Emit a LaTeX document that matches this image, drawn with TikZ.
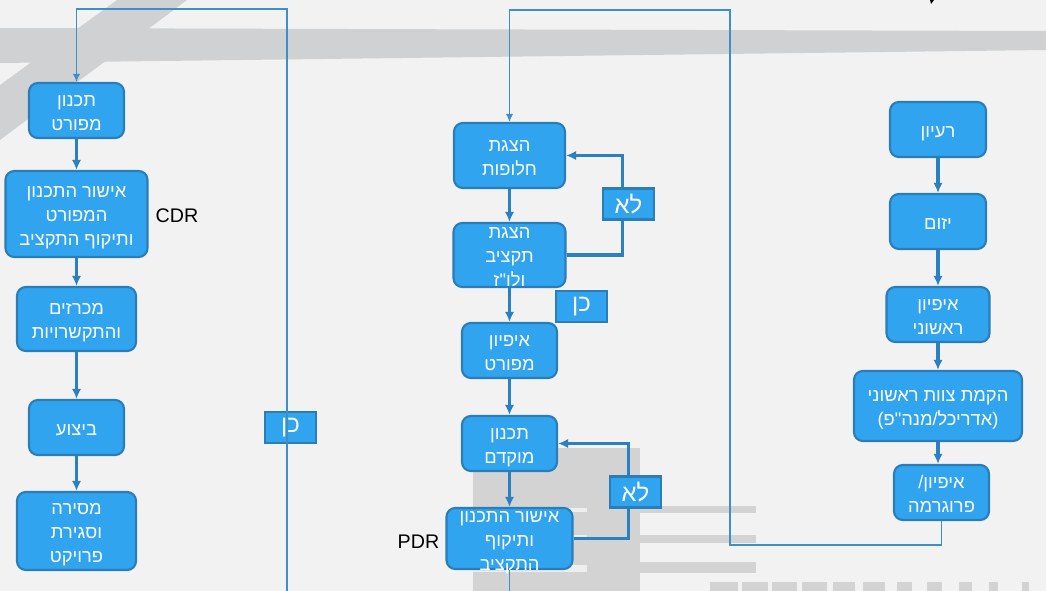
\documentclass[tikz,border=0pt]{standalone}
\usepackage{fontspec}
\setmainfont{Liberation Sans}
\newfontfamily\hebfont[Script=Hebrew]{Liberation Sans}
\TeXXeTstate=1
\usetikzlibrary{arrows.meta}
\definecolor{bgcolor}{HTML}{F2F2F2}
\definecolor{bandcolor}{HTML}{D0D1D3}
\definecolor{blockcolor}{HTML}{D4D3D4}
\definecolor{lightbar}{HTML}{EEEEEE}
\definecolor{boxfill}{HTML}{30A4EE}
\definecolor{boxline}{HTML}{2A7DB7}
\definecolor{arrowcolor}{HTML}{2A80C0}
\definecolor{thincolor}{HTML}{3D8FCC}
% hebrew lines, kept out of the box height
\newcommand{\heb}[1]{\smash{\raisebox{-0.4em}{\begin{tabular}{@{}c@{}}#1\end{tabular}}}}

\begin{document}
\begin{tikzpicture}[x=0.025cm,y=-0.025cm,
  stage/.style={draw=boxline,line width=1.5pt,fill=boxfill,rounded corners=0.22cm,text=white,inner sep=0pt,font=\hebfont\fontsize{13}{17}\selectfont},
  boxsize/.style 2 args={minimum width=#1*0.025cm,minimum height=#2*0.025cm},
  answer/.style={draw=boxline,line width=1.8pt,fill=boxfill,text=white,inner sep=0pt,minimum width=1.275cm,minimum height=0.775cm,font=\hebfont\fontsize{17}{20}\selectfont},
  flow/.style={arrowcolor,line width=2.2pt,-{Latex[length=0.25cm,width=0.23cm]}},
  thinline/.style={thincolor,line width=0.8pt},
  thinflow/.style={thinline,-{Latex[length=0.2cm,width=0.18cm]}},
  review/.style={font=\fontsize{14}{17}\selectfont}]
\useasboundingbox (0,0) rectangle (1046,591);
%% background
\fill[bgcolor] (0,0) rectangle (1046,591);
\fill[bandcolor] (117,0) -- (187,0) -- (0,140) -- (0,85) -- cycle;
\fill[bandcolor] (0,28) -- (1046,31) -- (1046,50) -- (0,63) -- cycle;
\fill[blockcolor] (473,448) rectangle (640,591);
\foreach \ya/\yb in {508/512, 535/538, 565/572}
    \fill[lightbar] (473,\ya) rectangle (587,\yb);
\foreach \ya/\yb in {506/513, 535/543, 562/573}
    \fill[blockcolor] (640,\ya) rectangle (756,\yb);
\foreach \xa/\xb in {710/738, 742/768, 772/797, 802/827, 833/855, 863/885, 897/912, 927/942, 959/972, 989/998, 1022/1029}
    \fill[blockcolor] (\xa,582) rectangle (\xb,591);
\fill[black] (930,0) -- (934,0) -- (931,4) -- cycle;

%% right column
\node[stage,boxsize={96}{55}] (idea) at (938,129.5) {\heb{\beginR רעיון\endR}};
\node[stage,boxsize={96}{55}] (initiation) at (938,221.5) {\heb{\beginR יזום\endR}};
\node[stage,boxsize={103}{55}] (firstspec) at (938,314.5) {\heb{\beginR איפיון\endR\\\beginR ראשוני\endR}};
\node[stage,boxsize={168}{70}] (team) at (938,406) {\heb{\beginR הקמת צוות ראשוני\endR\\\beginR (אדריכל/מנה"פ)\endR}};
\node[stage,boxsize={95}{55}] (program) at (941.5,492.5) {\heb{\beginR איפיון/\endR\\\beginR פרוגרמה\endR}};

%% middle column
\node[stage,boxsize={111}{65}] (options) at (509.5,155.5) {\heb{\beginR הצגת\endR\\\beginR חלופות\endR}};
\node[stage,boxsize={112}{64}] (budget) at (509.5,255) {\heb{\beginR הצגת\endR\\\beginR תקציב\endR\\\beginR ולו"ז\endR}};
\node[stage,boxsize={95}{55}] (detspec) at (509.5,350.5) {\heb{\beginR איפיון\endR\\\beginR מפורט\endR}};
\node[stage,boxsize={95}{55}] (prelim) at (509.5,443.5) {\heb{\beginR תכנון\endR\\\beginR מוקדם\endR}};
\node[stage,boxsize={126}{61}] (prelimok) at (509.5,538.5) {\heb{\beginR אישור התכנון\endR\\\beginR ותיקוף\endR\\\beginR התקציב\endR}};
\node[review] (pdr) at (418.5,542) {PDR};

%% left column
\node[stage,boxsize={95}{55}] (detplan) at (76.5,110.5) {\heb{\beginR תכנון\endR\\\beginR מפורט\endR}};
\node[stage,boxsize={142}{86}] (detok) at (76.5,214) {\heb{\beginR אישור התכנון\endR\\\beginR המפורט\endR\\\beginR ותיקוף התקציב\endR}};
\node[stage,boxsize={119}{64}] (tenders) at (76.5,319) {\heb{\beginR מכרזים\endR\\\beginR והתקשרויות\endR}};
\node[stage,boxsize={95}{55}] (works) at (76.5,427.5) {\heb{\beginR ביצוע\endR}};
\node[stage,boxsize={119}{78}] (handover) at (76.5,531) {\heb{\beginR מסירה\endR\\\beginR וסגירת\endR\\\beginR פרויקט\endR}};
\node[review] (cdr) at (177,216) {CDR};

%% thin links between the columns
\coordinate (fromprev) at (287,591);
\coordinate (tonext) at (509.5,591);
\node[answer] (yes2) at (290.5,427.5) {\beginR כן\endR};
\draw[thinflow] (fromprev) |- (detplan.north |- 0,9) -- (detplan.north);
\draw[thinflow] (program.south) |- (730,545) |- (options.north |- 0,10) -- (options.north);
\draw[thinline] (prelimok.south) -- (tonext);

%% arrows
\draw[flow] (idea) -- (initiation);
\draw[flow] (initiation) -- (firstspec);
\draw[flow] (firstspec) -- (team);
\draw[flow] (team.south) -- (team.south |- program.north);
\draw[flow] (options) -- (budget);
\draw[flow] (budget) -- (detspec);
\draw[flow] (detspec) -- (prelim);
\draw[flow] (prelim) -- (prelimok);
\draw[flow] (detplan) -- (detok);
\draw[flow] (detok) -- (tenders);
\draw[flow] (tenders) -- (works);
\draw[flow] (works) -- (handover);
\draw[flow] (budget.east) -- ++(56,0) |- (options.east);
\draw[flow] (prelimok.east) -- ++(55,0) |- (prelim.east);

\node[answer] (no1) at (628.5,204) {\beginR לא\endR};
\node[answer] (no2) at (635.5,492) {\beginR לא\endR};
\node[answer] (yes1) at (581.5,306.5) {\beginR כן\endR};
\end{tikzpicture}
\end{document}
